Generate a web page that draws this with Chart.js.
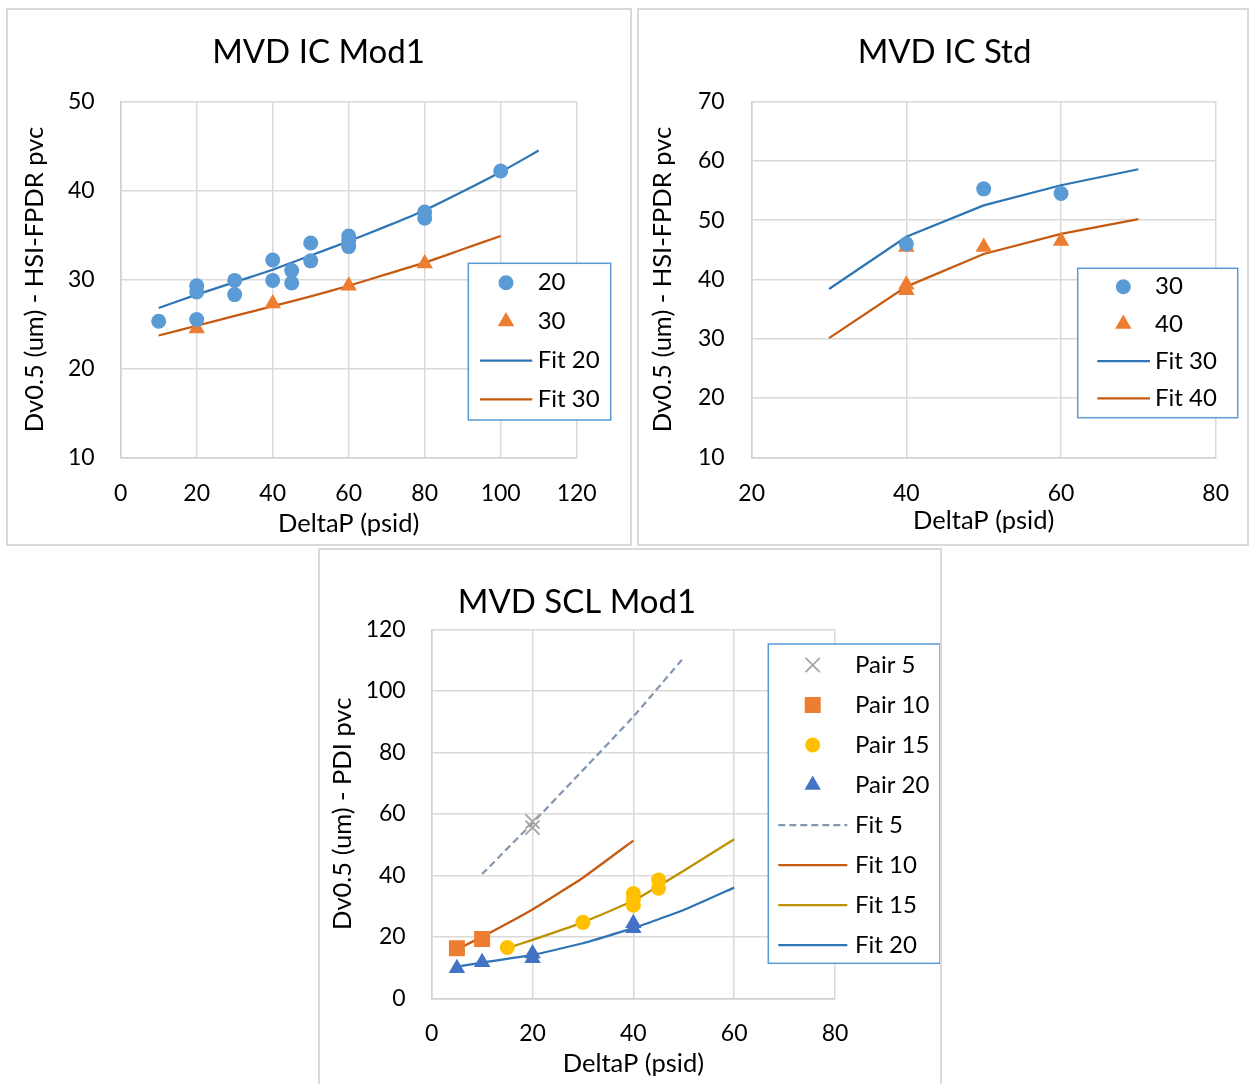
<!DOCTYPE html>
<html>
<head>
<meta charset="utf-8">
<title>MVD fits</title>
<script src="https://cdn.jsdelivr.net/npm/chart.js"></script>
<style>
  html, body { margin: 0; padding: 0; background: #fff; overflow: hidden; }
  .panel { position: absolute; box-sizing: border-box; border: 2px solid #d9d9d9; background: #fff; overflow: hidden; }
  .panel canvas { position: absolute; left: 0; top: 0; }
</style>
</head>
<body>
<div class="panel" style="left:6px;top:8px;width:626px;height:538px"><canvas id="icMod1" width="622" height="534"></canvas></div>
<!-- canvas a bit wider than the panel so the last x label has room; the overflow is clipped -->
<div class="panel" style="left:637px;top:8px;width:612px;height:538px"><canvas id="icStd" width="616" height="534"></canvas></div>
<div class="panel" style="left:318px;top:548px;width:624px;height:540px"><canvas id="sclMod1" width="620" height="536"></canvas></div>
<script>
// MVD IC Mod1
var mod1X20 = [10, 20, 20, 20, 30, 30, 40, 40, 45, 45, 50, 50, 60, 60, 60, 80, 80, 100];
var mod1Y20 = [25.3, 29.3, 28.6, 25.5, 29.9, 28.3, 32.2, 29.9, 31.0, 29.6, 34.1, 32.1, 34.9, 34.4, 33.7, 37.6, 36.9, 42.2];
var mod1X30 = [20, 40, 60, 80];
var mod1Y30 = [24.5, 27.3, 29.3, 31.8];
var mod1FitX20 = [10, 20, 30, 40, 50, 60, 70, 80, 90, 100, 110];
var mod1FitY20 = [26.8, 28.3, 29.7, 31.1, 32.7, 34.3, 36.0, 37.8, 39.9, 42.1, 44.5];
var mod1FitX30 = [10, 20, 30, 40, 50, 60, 70, 80, 90, 100];
var mod1FitY30 = [23.7, 24.8, 25.9, 27.0, 28.1, 29.3, 30.6, 31.9, 33.4, 34.9];

// MVD IC Std
var stdX30 = [40, 50, 60];
var stdY30 = [46.0, 55.3, 54.5];
var stdX40 = [40, 40, 40, 50, 60];
var stdY40 = [45.5, 39.1, 38.2, 45.5, 46.5];
var stdFitX = [30, 40, 50, 60, 70];
var stdFitY30 = [38.4, 47.2, 52.5, 55.9, 58.6];
var stdFitY40 = [30.1, 38.8, 44.3, 47.7, 50.2];

// MVD SCL Mod1
var pair5X = [20, 20];
var pair5Y = [57.5, 55.5];
var pair10X = [5, 10];
var pair10Y = [16.3, 19.3];
var pair15X = [15, 30, 40, 40, 40, 45, 45];
var pair15Y = [16.5, 24.7, 34.1, 32.2, 30.3, 38.5, 35.8];
var pair20X = [5, 10, 20, 20, 40, 40];
var pair20Y = [9.8, 11.7, 14.6, 13.0, 24.4, 22.8];
var fit5X = [10, 20, 30, 40, 50];
var fit5Y = [40.4, 57.0, 74.2, 91.6, 110.8];
var fit10X = [5, 10, 20, 30, 40];
var fit10Y = [15.9, 20.0, 28.9, 39.2, 51.3];
var fit15X = [15, 20, 30, 40, 50, 60];
var fit15Y = [16.3, 19.0, 24.7, 31.7, 41.5, 51.7];
var fit20X = [5, 10, 20, 30, 40, 50, 60];
var fit20Y = [10.3, 11.6, 14.1, 17.9, 22.8, 28.7, 36.0];

var FONT = 'Lato, "Open Sans", sans-serif';
Chart.defaults.font.family = FONT;
Chart.defaults.color = '#000';

function pts(xs, ys) {
    return xs.map(function (x, i) { return { x: x, y: ys[i] }; });
}

function markers(label, xs, ys, style, radius, color) {
    return {
        label: label, data: pts(xs, ys), showLine: false,
        pointStyle: style, pointRadius: radius,
        backgroundColor: color, borderColor: color, pointBorderWidth: style === 'crossRot' ? 1.8 : 0
    };
}

function fitLine(label, xs, ys, color, dash, tension) {
    return {
        label: label, data: pts(xs, ys), showLine: true, pointRadius: 0,
        borderColor: color, backgroundColor: color, borderWidth: 2.25,
        borderDash: dash || [], tension: tension || 0
    };
}

// chart title at a fixed spot, independent of the layout boxes
var panelTitle = {
    id: 'panelTitle',
    afterDraw: function (chart, args, o) {
        var ctx = chart.ctx;
        ctx.save();
        ctx.font = '33px ' + FONT;
        ctx.fillStyle = '#000';
        ctx.textAlign = 'center';
        ctx.textBaseline = 'middle';
        ctx.fillText(o.text, o.x, o.y);
        ctx.restore();
    }
};

function drawMarker(ctx, ds, x, y) {
    ctx.fillStyle = ds.backgroundColor;
    ctx.strokeStyle = ds.borderColor;
    ctx.lineWidth = ds.pointBorderWidth;
    Chart.helpers.drawPoint(ctx, { pointStyle: ds.pointStyle, radius: ds.pointRadius, rotation: 0, borderWidth: ds.pointBorderWidth }, x, y);
}

// boxed legend that sits over the plot like the Excel one
var boxLegend = {
    id: 'boxLegend',
    afterDatasetsDraw: function (chart, args, o) {
        var ctx = chart.ctx;
        ctx.save();
        ctx.fillStyle = '#fff';
        ctx.fillRect(o.x, o.y, o.w, o.h);
        ctx.strokeStyle = '#5b9bd5';
        ctx.lineWidth = 1.5;
        ctx.strokeRect(o.x, o.y, o.w, o.h);
        chart.data.datasets.forEach(function (ds, i) {
            var y = o.first + i * o.step;
            ctx.save();
            if (ds.showLine) {
                ctx.strokeStyle = ds.borderColor;
                ctx.lineWidth = ds.borderWidth;
                ctx.setLineDash(ds.borderDash);
                ctx.beginPath();
                ctx.moveTo(o.lineX0, y);
                ctx.lineTo(o.lineX1, y);
                ctx.stroke();
            } else {
                drawMarker(ctx, ds, o.markerX, y);
            }
            ctx.restore();
            ctx.font = '24px ' + FONT;
            ctx.fillStyle = '#000';
            ctx.textBaseline = 'middle';
            ctx.fillText(ds.label, ds.showLine ? o.lineTextX : o.textX, y);
        });
        ctx.restore();
    }
};

function axis(min, max, step, title, isX, g) {
    var tickFont = { size: 23, family: FONT };
    var titleFont = { size: 25.5, family: FONT };
    return {
        type: 'linear', min: min, max: max,
        ticks: { stepSize: step, padding: isX ? g.xTickPad : g.yTickPad, font: tickFont, color: '#000' },
        grid: { color: '#d9d9d9', lineWidth: 1.5, drawTicks: false },
        border: { color: '#d0d0d0', width: 1.5 },
        title: {
            display: true, text: title, font: titleFont, color: '#000',
            padding: isX ? { top: 0, bottom: g.xTitlePad } : { top: g.yTitlePad, bottom: 0 }
        },
        afterFit: function (s) {
            if (isX) { s.height = g.xHeight; } else { s.width = g.yWidth; }
        }
    };
}

function makeChart(id, datasets, xr, yr, yTitle, g, title, legend) {
    return new Chart(document.getElementById(id), {
        type: 'scatter',
        data: { datasets: datasets },
        options: {
            responsive: false,
            animation: false,
            devicePixelRatio: 1,
            events: [],
            layout: { padding: { top: g.top, right: g.right, left: 0, bottom: 0 } },
            scales: {
                x: axis(xr[0], xr[1], xr[2], 'DeltaP (psid)', true, g),
                y: axis(yr[0], yr[1], yr[2], yTitle, false, g)
            },
            plugins: {
                legend: { display: false },
                tooltip: { enabled: false },
                panelTitle: title,
                boxLegend: legend
            }
        },
        plugins: [boxLegend, panelTitle]
    });
}

makeChart('icMod1', [
    markers('20', mod1X20, mod1Y20, 'circle', 7.5, '#5b9bd5'),
    markers('30', mod1X30, mod1Y30, 'triangle', 9.5, '#ed7d31'),
    fitLine('Fit 20', mod1FitX20, mod1FitY20, '#2e75b6', null, 0.2),
    fitLine('Fit 30', mod1FitX30, mod1FitY30, '#c55a11', null, 0.2)
], [0, 120, 20], [10, 50, 10], 'Dv0.5 (um) - HSI-FPDR pvc',
    { top: 91.7, right: 53.3, yWidth: 112.7, xHeight: 86.7, xTickPad: 22, yTickPad: 26, yTitlePad: 11.5, xTitlePad: 4.5 },
    { text: 'MVD IC Mod1', x: 310.5, y: 42 },
    { x: 460.3, y: 253.3, w: 142.4, h: 156.7, first: 272.7, step: 38.9, markerX: 498, textX: 529.7, lineX0: 472, lineX1: 524.3, lineTextX: 529.7 });

makeChart('icStd', [
    markers('30', stdX30, stdY30, 'circle', 7.5, '#5b9bd5'),
    markers('40', stdX40, stdY40, 'triangle', 9.5, '#ed7d31'),
    fitLine('Fit 30', stdFitX, stdFitY30, '#2e75b6'),
    fitLine('Fit 40', stdFitX, stdFitY40, '#c55a11')
], [20, 80, 20], [10, 70, 10], 'Dv0.5 (um) - HSI-FPDR pvc',
    { top: 91.7, right: 39.3, yWidth: 112.7, xHeight: 86.7, xTickPad: 22, yTickPad: 27, yTitlePad: 8.5, xTitlePad: 7.5 },
    { text: 'MVD IC Std', x: 305.5, y: 42 },
    { x: 438.7, y: 258.3, w: 160, h: 149.4, first: 276.7, step: 37.2, markerX: 484.3, textX: 516, lineX0: 458.3, lineX1: 511, lineTextX: 516 });

makeChart('sclMod1', [
    markers('Pair 5', pair5X, pair5Y, 'crossRot', 10, '#a5a5a5'),
    markers('Pair 10', pair10X, pair10Y, 'rect', 11.3, '#ed7d31'),
    markers('Pair 15', pair15X, pair15Y, 'circle', 7.5, '#ffc000'),
    markers('Pair 20', pair20X, pair20Y, 'triangle', 9.5, '#4472c4'),
    fitLine('Fit 5', fit5X, fit5Y, '#8497b0', [7, 4], 0.1),
    fitLine('Fit 10', fit10X, fit10Y, '#c55a11', null, 0.1),
    fitLine('Fit 15', fit15X, fit15Y, '#bf9000', null, 0.1),
    fitLine('Fit 20', fit20X, fit20Y, '#2e75b6', null, 0.1)
], [0, 80, 20], [0, 120, 20], 'Dv0.5 (um) - PDI pvc',
    { top: 79.3, right: 105, yWidth: 111.7, xHeight: 87.7, xTickPad: 21, yTickPad: 26, yTitlePad: 7.5, xTitlePad: 6.5 },
    { text: 'MVD SCL Mod1', x: 257, y: 52 },
    { x: 448.3, y: 94, w: 171.7, h: 319.3, first: 115, step: 40, markerX: 492.7, textX: 535, lineX0: 458.3, lineX1: 527.3, lineTextX: 535 });
</script>
</body>
</html>
